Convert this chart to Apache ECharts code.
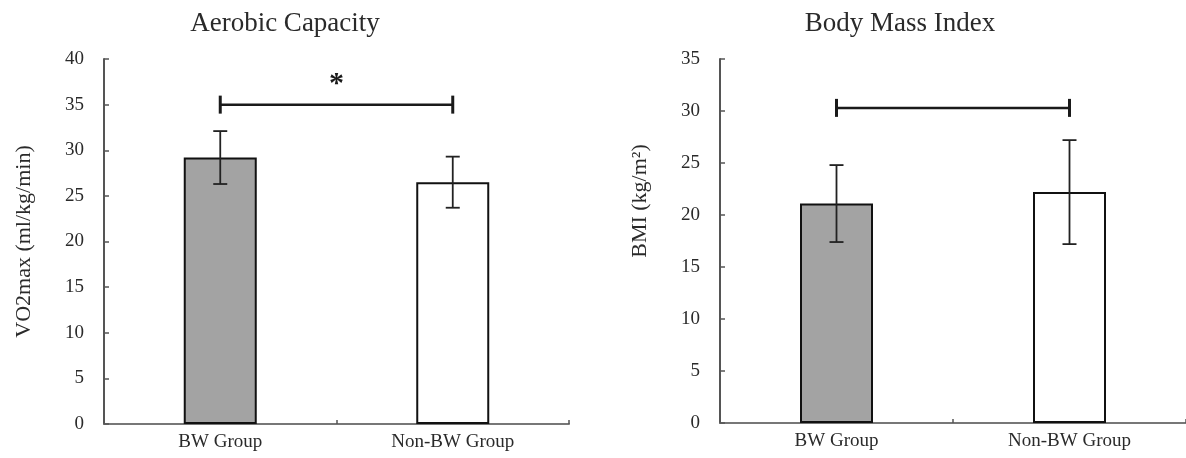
<!DOCTYPE html>
<html>
<head>
<meta charset="utf-8">
<script src="https://cdn.jsdelivr.net/npm/echarts@6/dist/echarts.min.js"></script>
<style>
html,body{margin:0;padding:0;background:#fff;}
#chart{width:1186px;height:458px;}
</style>
</head>
<body>
<div id="chart"></div>
<script>
// ---- data ----
const categories = ['BW Group', 'Non-BW Group'];
const vo2Mean = [29.2, 26.5];
const vo2SD = [2.9, 2.8];
const bmiMean = [21.1, 22.2];
const bmiSD = [3.7, 5.0];
const vo2Bracket = [0, 1, 35];     // from category, to category, height
const bmiBracket = [0, 1, 30.3];
const vo2Ticks = { min: 0, max: 40, interval: 5 };
const bmiTicks = { min: 0, max: 35, interval: 5 };
const titles = ['Aerobic Capacity', 'Body Mass Index'];
const yNames = ['VO2max (ml/kg/min)', 'BMI (kg/m\u00B2)'];
const significance = ['*', ''];

// ---- styles ----
const FONT = '"Liberation Serif", "Times New Roman", serif';
const barColors = ['#a3a3a3', '#ffffff'];
const textColor = '#2a2a2a';

const chart = echarts.init(document.getElementById('chart'), null, { renderer: 'canvas' });

function barData(means) {
  return means.map((v, i) => ({
    value: v,
    itemStyle: { color: barColors[i], borderColor: '#111', borderWidth: 2 }
  }));
}
function errData(means, sds) {
  return means.map((m, i) => [i, m - sds[i], m + sds[i]]);
}
function errRender(params, api) {
  const x = api.value(0);
  const pLo = api.coord([x, api.value(1)]);
  const pHi = api.coord([x, api.value(2)]);
  const hw = 7;
  const st = { stroke: '#222', lineWidth: 1.8 };
  return {
    type: 'group',
    children: [
      { type: 'line', shape: { x1: pHi[0], y1: pHi[1], x2: pLo[0], y2: pLo[1] }, style: st },
      { type: 'line', shape: { x1: pHi[0] - hw, y1: pHi[1], x2: pHi[0] + hw, y2: pHi[1] }, style: st },
      { type: 'line', shape: { x1: pLo[0] - hw, y1: pLo[1], x2: pLo[0] + hw, y2: pLo[1] }, style: st }
    ]
  };
}
function bracketRender(mark) {
  return function (params, api) {
    const y = api.value(2);
    const p0 = api.coord([api.value(0), y]);
    const p1 = api.coord([api.value(1), y]);
    const st = { stroke: '#1a1a1a', lineWidth: 2.5 };
    const th = 9;
    const children = [
      { type: 'line', shape: { x1: p0[0], y1: p0[1], x2: p1[0], y2: p1[1] }, style: st },
      { type: 'line', shape: { x1: p0[0], y1: p0[1] - th, x2: p0[0], y2: p0[1] + th }, style: { stroke: '#1a1a1a', lineWidth: 3 } },
      { type: 'line', shape: { x1: p1[0], y1: p1[1] - th, x2: p1[0], y2: p1[1] + th }, style: { stroke: '#1a1a1a', lineWidth: 3 } }
    ];
    if (mark) {
      children.push({
        type: 'text',
        style: {
          text: mark, x: (p0[0] + p1[0]) / 2, y: p0[1] - 20,
          align: 'center', verticalAlign: 'middle',
          font: 'bold 30px ' + FONT, fill: '#1a1a1a'
        }
      });
    }
    return { type: 'group', children };
  };
}

function xAxisOpt(gi) {
  return {
    type: 'category', gridIndex: gi, data: categories,
    axisLine: { lineStyle: { color: '#777', width: 2 } },
    axisTick: { show: true, inside: true, length: 4, lineStyle: { color: '#555', width: 1.5 } },
    axisLabel: { color: textColor, fontFamily: FONT, fontSize: 19, margin: 9 }
  };
}
function yAxisOpt(gi, t, name, pad) {
  return {
    type: 'value', gridIndex: gi, min: t.min, max: t.max, interval: t.interval,
    name: name, nameLocation: 'middle', nameGap: 69, nameRotate: 90,
    nameTextStyle: { color: textColor, fontFamily: FONT, fontSize: 22, padding: pad },
    axisLine: { show: true, lineStyle: { color: '#555', width: 2 } },
    axisTick: { show: true, inside: true, length: 5, lineStyle: { color: '#555', width: 1.5 } },
    axisLabel: { color: textColor, fontFamily: FONT, fontSize: 19, margin: 20 },
    splitLine: { show: false }
  };
}

const option = {
  backgroundColor: '#ffffff',
  animation: false,
  title: [
    { text: titles[0], left: 280, top: 5, textAlign: 'center',
      textStyle: { fontFamily: FONT, fontSize: 27, fontWeight: 'normal', color: textColor } },
    { text: titles[1], left: 895, top: 5, textAlign: 'center',
      textStyle: { fontFamily: FONT, fontSize: 27, fontWeight: 'normal', color: textColor } }
  ],
  grid: [
    { left: 104, width: 465, top: 59, height: 365 },
    { left: 720, width: 466, top: 59, height: 364 }
  ],
  xAxis: [xAxisOpt(0), xAxisOpt(1)],
  yAxis: [
    yAxisOpt(0, vo2Ticks, yNames[0], [0, 0, 0, 0]),
    yAxisOpt(1, bmiTicks, yNames[1], [0, 0, 0, 80])
  ],
  series: [
    { type: 'bar', xAxisIndex: 0, yAxisIndex: 0, barWidth: 73, data: barData(vo2Mean) },
    { type: 'bar', xAxisIndex: 1, yAxisIndex: 1, barWidth: 73, data: barData(bmiMean) },
    { type: 'custom', xAxisIndex: 0, yAxisIndex: 0, renderItem: errRender,
      encode: { x: 0, y: [1, 2] }, data: errData(vo2Mean, vo2SD), z: 5 },
    { type: 'custom', xAxisIndex: 1, yAxisIndex: 1, renderItem: errRender,
      encode: { x: 0, y: [1, 2] }, data: errData(bmiMean, bmiSD), z: 5 },
    { type: 'custom', xAxisIndex: 0, yAxisIndex: 0, renderItem: bracketRender(significance[0]),
      encode: { x: [0, 1], y: 2 }, data: [vo2Bracket], z: 5 },
    { type: 'custom', xAxisIndex: 1, yAxisIndex: 1, renderItem: bracketRender(significance[1]),
      encode: { x: [0, 1], y: 2 }, data: [bmiBracket], z: 5 }
  ]
};
chart.setOption(option);
</script>
</body>
</html>
